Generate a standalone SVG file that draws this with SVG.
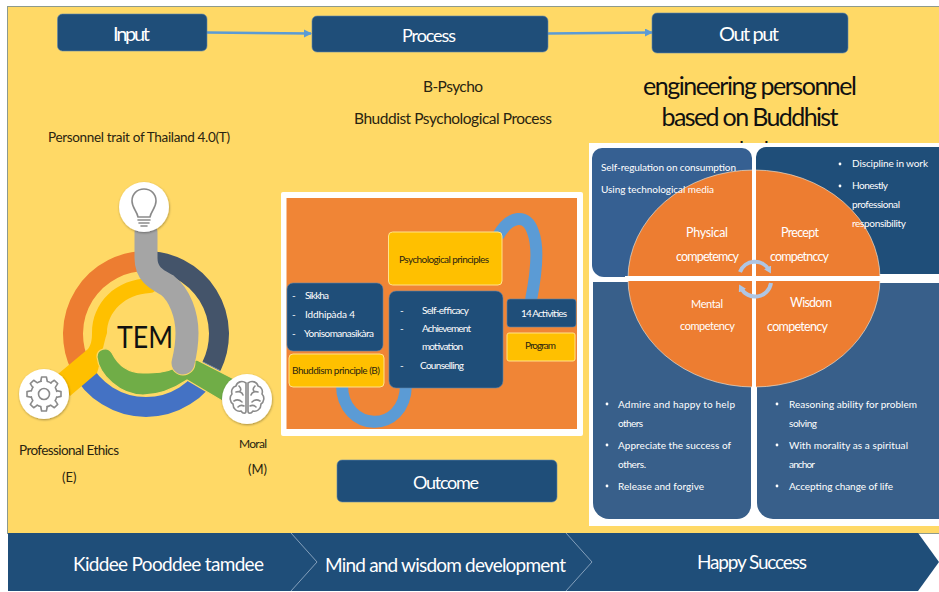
<svg xmlns="http://www.w3.org/2000/svg" xmlns:xlink="http://www.w3.org/1999/xlink" width="939" height="592" viewBox="0 0 939 592">
<style>
text{font-family:"Lato","Open Sans",sans-serif;fill:#fff;font-weight:400}
.k{fill:#2a2410}
.cal{font-family:"Lato","Open Sans",sans-serif;fill:#111;font-size:25px}
.s{font-size:10px}
.m{font-size:12.5px}
.h{font-size:20px}
.nv{fill:#1F4E79;stroke:#5f87ad;stroke-width:.6}
.yl{fill:#FFC000;stroke:#FFE28A;stroke-width:1}
.icon{fill:none;stroke:#8a8a8a;stroke-width:1.6;stroke-linecap:round;stroke-linejoin:round}
.disc{fill:#fff;filter:url(#sh)}
.arm{fill:none;stroke-linecap:round}
.ring{fill:none;stroke-width:20}
.conn{fill:none;stroke:#5B9BD5;stroke-width:2.5}
.loop{fill:none;stroke:#5B9BD5;stroke-width:12}
.turn{fill:none;stroke:#AFC6E4;stroke-width:4}
.q1{fill:#366092}
.q2{fill:#1F4E79}
.chev{fill:none;stroke:#9DB4CC;stroke-width:.8}
</style>
<defs>
<marker id="ah" markerWidth="10" markerHeight="10" refX="7" refY="4" orient="auto" markerUnits="userSpaceOnUse"><path d="M0,0L8,4L0,8Z" fill="#5B9BD5"/></marker>
<marker id="ta" markerWidth="10" markerHeight="10" refX="3" refY="4" orient="auto" markerUnits="userSpaceOnUse"><path d="M0,0L7,4L0,8Z" fill="#AFC6E4"/></marker>
<filter id="sh" x="-20%" y="-20%" width="140%" height="140%"><feDropShadow dx="0.5" dy="1" stdDeviation="1.2" flood-color="#000" flood-opacity=".35"/></filter>
<path id="tooth" d="M-3.2,-13L-2.4,-17L2.4,-17L3.2,-13" class="icon"/>
</defs>

<rect width="939" height="592" fill="#fff"/>
<rect x="7.500" y="6.500" width="932" height="527" fill="#FFD966" stroke="#8d9a8c" stroke-width="1"/>
<text class="cal" x="750" y="95" text-anchor="middle" textLength="214" lengthAdjust="spacing">engineering personnel</text>
<text class="cal" x="750" y="126" text-anchor="middle" textLength="177" lengthAdjust="spacing">based on Buddhist</text>
<text class="cal" x="750" y="156.500" text-anchor="middle" style="font-size:22px">psychology</text>

<g id="connectors">
<path class="conn" d="M207,32.500L311,33.500" marker-end="url(#ah)"/>
<path class="conn" d="M548,33.500L652,32.500" marker-end="url(#ah)"/>
</g>

<g id="input"><rect class="nv" x="57.500" y="14" width="149.500" height="37" rx="5"/><text class="h" x="113" y="41" textLength="37" lengthAdjust="spacing">Input</text></g>
<g id="process"><rect class="nv" x="312" y="16" width="236" height="36" rx="5"/><text class="h" x="402" y="42" textLength="54" lengthAdjust="spacing" style="font-size:18px">Process</text></g>
<g id="output"><rect class="nv" x="652" y="13" width="196" height="40" rx="5"/><text class="h" x="719" y="41" textLength="60" lengthAdjust="spacing">Out put</text></g>

<g id="trait-title"><text class="k" font-size="13.500" x="48" y="142" textLength="182" lengthAdjust="spacing">Personnel trait of Thailand 4.0(T)</text></g>

<g id="tem">
<path class="ring" stroke="#ED7D31" d="M146,261A73,73 0 0 0 80.400,366"/>
<path class="ring" stroke="#44546A" d="M146,261A73,73 0 0 1 211.600,366"/>
<path class="ring" stroke="#4472C4" d="M80.400,366A73,73 0 0 0 211.600,366"/>
<path fill="#FFC000" d="M150,278C115,279 92,303 92,333C92,340 91,345 88,349L58,374L70,396L97,373C100,365 103,345 107,333C107,312 125,294 150,293A7.500,7.500 0 0 0 150,278Z"/>
<path fill="#70AD47" stroke="#FFD966" stroke-width="1.200" d="M97,357C99,375 120,395 143,395C160,395 175,388 187,380L224,402L236,380L197,360C187,362 183,366 177,367C165,373 155,373 143,373C128,373 118,365 112,353A8,8 0 0 0 97,357Z"/>
<path class="arm" stroke="#FFD966" stroke-width="25" d="M183,353L183,363"/>
<path class="arm" stroke="#A5A5A5" stroke-width="23" d="M146,233L146,258C146,275 158,280 167,285C180,295 187,315 187,333C187,345 185,355 183,363"/>
<text font-size="30" x="117" y="348" textLength="56" lengthAdjust="spacingAndGlyphs" style="fill:#111">TEM</text>
</g>

<g id="bulb"><circle class="disc" cx="144" cy="207" r="25"/>
<path class="icon" d="M138,217C137,211 132,208 132,201C132,194 137,189 144,189C151,189 156,194 156,201C156,208 151,211 150,217Z"/>
<path class="icon" d="M138,220H150M139,223H149M141,226H147"/></g>

<g id="gear"><circle class="disc" cx="44" cy="394" r="25"/>
<g transform="translate(44 394)">
<circle class="icon" r="13" stroke-dasharray="3.810 6.400" stroke-dashoffset="7.010" stroke-linecap="butt"/>
<circle class="icon" r="5.500"/>
<use xlink:href="#tooth"/><use xlink:href="#tooth" transform="rotate(45)"/><use xlink:href="#tooth" transform="rotate(90)"/><use xlink:href="#tooth" transform="rotate(135)"/><use xlink:href="#tooth" transform="rotate(180)"/><use xlink:href="#tooth" transform="rotate(225)"/><use xlink:href="#tooth" transform="rotate(270)"/><use xlink:href="#tooth" transform="rotate(315)"/>
</g></g>

<g id="brain"><circle class="disc" cx="247" cy="399" r="25"/>
<path class="icon" stroke-width="1.200" d="M246,383C242,380 237,382 236,386C232,387 231,391 232,394C229,397 230,402 233,404C233,409 237,412 241,411C243,414 246,414 246,411ZM248,383C252,380 257,382 258,386C262,387 263,391 262,394C265,397 264,402 261,404C261,409 257,412 253,411C251,414 248,414 248,411ZM236,392C239,391 242,392 243,395M234,401C237,399 240,400 242,402M239,386C241,388 241,390 240,391M258,392C255,391 252,392 251,395M260,401C257,399 254,400 252,402M255,386C253,388 253,390 254,391M238,407C240,405 242,405 244,406M256,407C254,405 252,405 250,406"/></g>

<g id="label-ethics"><text class="k" font-size="13.500" x="19" y="455" textLength="100" lengthAdjust="spacing">Professional Ethics</text><text class="k" font-size="13" x="62" y="482">(E)</text></g>
<g id="label-moral"><text class="k" font-size="12" x="239" y="448" textLength="28" lengthAdjust="spacing">Moral</text><text class="k" font-size="13" x="248" y="474">(M)</text></g>

<g id="process-title"><text class="k" font-size="15.500" x="423" y="92" textLength="60" lengthAdjust="spacing">B-Psycho</text><text class="k" font-size="15.500" x="354" y="124" textLength="198" lengthAdjust="spacing">Bhuddist Psychological Process</text></g>

<g id="process-panel">
<rect x="281" y="192" width="302" height="244" rx="2" fill="#fff"/>
<rect x="286.500" y="198" width="290.500" height="231" fill="#F08536"/>
<path class="loop" d="M342,385C342,432 405,436 406,385"/>
<path class="loop" d="M498,236C510,215 527,213 533,232C540,250 535,280 531,300"/>
</g>
<g id="psych"><rect class="yl" x="388.500" y="232" width="113.500" height="53" rx="4"/><text class="k s" x="399" y="263" textLength="90" lengthAdjust="spacing">Psychological principles</text></g>
<g id="buddhist-list"><rect class="nv" x="287" y="283" width="96" height="68" rx="6"/>
<text class="s" x="292" y="299">-</text><text class="s" x="305" y="299" textLength="24" lengthAdjust="spacing">Sikkha</text>
<text class="s" x="292" y="318">-</text><text class="s" x="305" y="318" textLength="50" lengthAdjust="spacing">Iddhipàda 4</text>
<text class="s" x="292" y="337">-</text><text class="s" x="304" y="337" textLength="70" lengthAdjust="spacing">Yonisomanasikàra</text></g>
<g id="buddhism"><rect class="yl" x="289" y="354" width="95" height="33" rx="4"/><text class="k s" x="292" y="374" textLength="88" lengthAdjust="spacing">Bhuddism principle (B)</text></g>
<g id="psych-list"><rect class="nv" x="389" y="291" width="114" height="97" rx="7"/>
<text class="s" x="400" y="314">-</text><text class="s" x="422" y="314" textLength="47" lengthAdjust="spacing">Self-efficacy</text>
<text class="s" x="400" y="332">-</text><text class="s" x="422" y="332" textLength="49" lengthAdjust="spacing">Achievement</text>
<text class="s" x="422" y="350" textLength="41" lengthAdjust="spacing">motivation</text>
<text class="s" x="400" y="369">-</text><text class="s" x="420" y="369" textLength="44" lengthAdjust="spacing">Counselling</text></g>
<g id="activities"><rect class="nv" x="507" y="299" width="69" height="28" rx="3"/><text class="s" x="521" y="317" textLength="46" lengthAdjust="spacing">14 Activities</text></g>
<g id="program"><rect class="yl" x="507" y="333" width="68" height="28" rx="2"/><text class="k s" x="525" y="349" textLength="31" lengthAdjust="spacing">Program</text></g>

<g id="outcome"><rect class="nv" x="337" y="460" width="220" height="42" rx="5"/><text x="413" y="489" font-size="18" textLength="66" lengthAdjust="spacing">Outcome</text></g>

<g id="output-panel">
<rect x="589" y="143" width="350" height="383" fill="#fff"/>
<path class="q1" d="M602,148H742A10,10 0 0 1 752,158V277H604A12,12 0 0 1 592,265V158A10,10 0 0 1 602,148Z"/>
<path class="q2" d="M766,147H939V274H756V157A10,10 0 0 1 766,147Z"/>
<path fill="#385F8A" d="M593,282H751V505A14,14 0 0 1 737,519H609A16,16 0 0 1 593,503Z"/>
<path fill="#385F8A" d="M757,283H939V519H773A16,16 0 0 1 757,503Z"/>
<ellipse cx="754" cy="278.500" rx="126" ry="108.500" fill="#ED7D31" stroke="#e8dccb" stroke-width=".7"/>
<rect x="752" y="165" width="4" height="226" fill="#fff"/>
<rect x="625" y="276" width="257" height="5" fill="#fff"/>
<path class="turn" d="M740,272A16,16 0 0 1 769,270" marker-end="url(#ta)"/>
<path class="turn" d="M771,283A16,16 0 0 1 741,288" marker-end="url(#ta)"/>
</g>
<g id="physical">
<text class="s" x="601" y="171" textLength="135" lengthAdjust="spacing">Self-regulation on consumption</text>
<text class="s" x="601" y="193" textLength="113" lengthAdjust="spacing">Using technological media</text>
<text class="m" x="686" y="237" textLength="42" lengthAdjust="spacing">Physical</text>
<text class="m" x="676" y="261" textLength="63" lengthAdjust="spacing">competemcy</text>
</g>
<g id="precept">
<circle cx="840" cy="164" r="1.400" fill="#fff"/><circle cx="840" cy="186" r="1.400" fill="#fff"/>
<text class="s" x="852" y="167" textLength="76" lengthAdjust="spacing">Discipline in work</text>
<text class="s" x="852" y="189" textLength="36" lengthAdjust="spacing">Honestly</text>
<text class="s" x="852" y="208" textLength="48" lengthAdjust="spacing">professional</text>
<text class="s" x="852" y="227" textLength="54" lengthAdjust="spacing">responsibility</text>
<text class="m" x="781" y="237" textLength="38" lengthAdjust="spacing">Precept</text>
<text class="m" x="770" y="261" textLength="59" lengthAdjust="spacing">competnccy</text>
</g>
<g id="mental">
<text class="m" x="691" y="308" textLength="32" lengthAdjust="spacing" style="font-size:11px">Mental</text>
<text class="m" x="680" y="330" textLength="55" lengthAdjust="spacing" style="font-size:11px">competency</text>
<circle cx="607" cy="404" r="1.400" fill="#fff"/><circle cx="607" cy="445" r="1.400" fill="#fff"/><circle cx="607" cy="486" r="1.400" fill="#fff"/>
<text class="s" x="618" y="408" textLength="117" lengthAdjust="spacing">Admire and happy to help</text>
<text class="s" x="618" y="427" textLength="25" lengthAdjust="spacing">others</text>
<text class="s" x="618" y="449" textLength="113" lengthAdjust="spacing">Appreciate the success of</text>
<text class="s" x="618" y="468" textLength="28" lengthAdjust="spacing">others.</text>
<text class="s" x="618" y="490" textLength="86" lengthAdjust="spacing">Release and forgive</text>
</g>
<g id="wisdom">
<text class="m" x="790" y="307" textLength="42" lengthAdjust="spacing">Wisdom</text>
<text class="m" x="767" y="331" textLength="61" lengthAdjust="spacing">competency</text>
<circle cx="777" cy="404" r="1.400" fill="#fff"/><circle cx="777" cy="445" r="1.400" fill="#fff"/><circle cx="777" cy="486" r="1.400" fill="#fff"/>
<text class="s" x="789" y="408" textLength="128" lengthAdjust="spacing">Reasoning ability for problem</text>
<text class="s" x="789" y="427" textLength="28" lengthAdjust="spacing">solving</text>
<text class="s" x="789" y="449" textLength="119" lengthAdjust="spacing">With morality as a spiritual</text>
<text class="s" x="789" y="468" textLength="26" lengthAdjust="spacing">anchor</text>
<text class="s" x="789" y="490" textLength="104" lengthAdjust="spacing">Accepting change of life</text>
</g>

<g id="band">
<path d="M8,533H918L939,562L918,591H8Z" fill="#1F4E79"/>
<path class="chev" d="M291,533L317,562L291,591"/>
<path class="chev" d="M566,533L592,562L566,591"/>
<text font-size="19" x="73" y="571" textLength="191" lengthAdjust="spacing">Kiddee Pooddee tamdee</text>
<text font-size="19" x="325" y="572" textLength="241" lengthAdjust="spacing">Mind and wisdom development</text>
<text font-size="19" x="697" y="569" textLength="110" lengthAdjust="spacing">Happy Success</text>
</g>
</svg>
